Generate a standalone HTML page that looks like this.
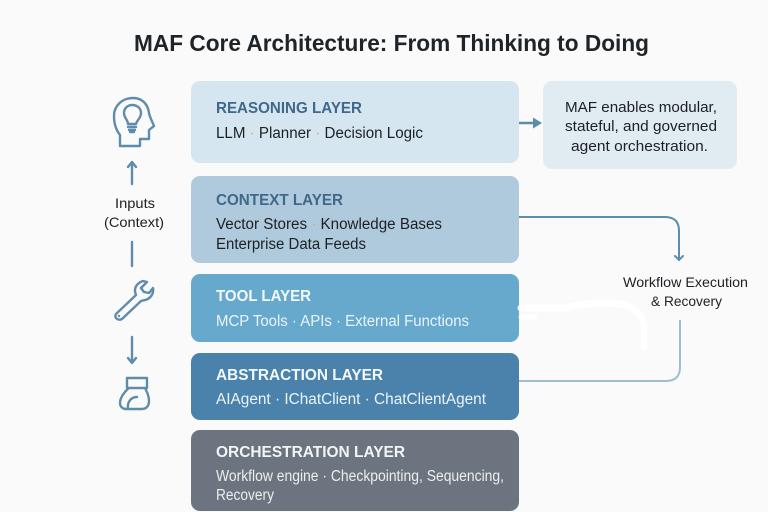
<!DOCTYPE html>
<html>
<head>
<meta charset="utf-8">
<style>
html,body{margin:0;padding:0;background:#fafafa;width:768px;height:512px;overflow:hidden}
svg{display:block}
text{font-family:"Liberation Sans",sans-serif}
.t{font-size:16px;font-weight:bold}
.s{font-size:15.5px}
.k{fill:#1c2024}
.c{font-size:15px;fill:#1c2024;text-anchor:start}
.i{fill:none;stroke:#5f8cab;stroke-width:2.4;stroke-linecap:round;stroke-linejoin:round}
</style>
</head>
<body>
<svg width="768" height="512" viewBox="0 0 768 512" xmlns="http://www.w3.org/2000/svg">
<rect width="768" height="512" fill="#fafafa"/>
<text x="134" y="51" font-size="23" font-weight="bold" fill="#1f2428" textLength="515" lengthAdjust="spacingAndGlyphs">MAF Core Architecture: From Thinking to Doing</text>

<rect x="191" y="81" width="328" height="82" rx="9" fill="#d5e6f1"/>
<rect x="191" y="176" width="328" height="87" rx="9" fill="#afcadc"/>
<rect x="191" y="274" width="328" height="68" rx="9" fill="#66a9cd"/>
<rect x="191" y="353" width="328" height="67" rx="9" fill="#4a82ab"/>
<rect x="191" y="430" width="328" height="81" rx="9" fill="#6c757f"/>
<rect x="543" y="81" width="194" height="88" rx="9" fill="#e1ebf2"/>

<text class="t" x="216" y="113" fill="#41688a" textLength="146" lengthAdjust="spacingAndGlyphs">REASONING LAYER</text>
<text class="s k" x="216" y="138" textLength="207" lengthAdjust="spacingAndGlyphs">LLM <tspan fill="#d2a878"> · </tspan>Planner <tspan fill="#d2a878"> · </tspan>Decision Logic</text>

<text class="t" x="216" y="205" fill="#41688a" textLength="127" lengthAdjust="spacingAndGlyphs">CONTEXT LAYER</text>
<text class="s k" x="216" y="229" textLength="226" lengthAdjust="spacingAndGlyphs">Vector Stores <tspan fill="#d2a878">·</tspan> Knowledge Bases</text>
<text class="s k" x="216" y="249" textLength="150" lengthAdjust="spacingAndGlyphs">Enterprise Data Feeds</text>

<text class="t" x="216" y="301" fill="#f3f8fb" textLength="95" lengthAdjust="spacingAndGlyphs">TOOL LAYER</text>
<text class="s" x="216" y="326" fill="#eaf4f9" textLength="253" lengthAdjust="spacingAndGlyphs">MCP Tools · APIs · External Functions</text>

<text class="t" x="216" y="380" fill="#f3f8fb" textLength="167" lengthAdjust="spacingAndGlyphs">ABSTRACTION LAYER</text>
<text class="s" x="216" y="404" fill="#eaf4f9" textLength="270" lengthAdjust="spacingAndGlyphs">AIAgent · IChatClient · ChatClientAgent</text>

<text class="t" x="216" y="457" fill="#f2f4f5" textLength="189" lengthAdjust="spacingAndGlyphs">ORCHESTRATION LAYER</text>
<text class="s" x="216" y="481" fill="#eceef0" textLength="288" lengthAdjust="spacingAndGlyphs">Workflow engine · Checkpointing, Sequencing,</text>
<text class="s" x="216" y="500" fill="#eceef0" textLength="58" lengthAdjust="spacingAndGlyphs">Recovery</text>

<text class="c" x="565" y="112" textLength="152" lengthAdjust="spacingAndGlyphs">MAF enables modular,</text>
<text class="c" x="565" y="131" textLength="152" lengthAdjust="spacingAndGlyphs">stateful, and governed</text>
<text class="c" x="571" y="151" textLength="137" lengthAdjust="spacingAndGlyphs">agent orchestration.</text>

<text x="115" y="208" font-size="14" fill="#1c2024" textLength="40" lengthAdjust="spacingAndGlyphs">Inputs</text>
<text x="104" y="227" font-size="14" fill="#1c2024" textLength="60" lengthAdjust="spacingAndGlyphs">(Context)</text>

<text x="623" y="287" font-size="14" fill="#1c2024" textLength="125" lengthAdjust="spacingAndGlyphs">Workflow Execution</text>
<text x="651" y="306" font-size="14" fill="#1c2024" textLength="71" lengthAdjust="spacingAndGlyphs">&amp; Recovery</text>

<!-- connectors -->
<path d="M519 123H537" fill="none" stroke="#5f8cab" stroke-width="2.4"/>
<path d="M542 123L533 117.500V128.500Z" fill="#5f8cab"/>
<path d="M519 217H665Q679 217 679 231V259" fill="none" stroke="#5f8cab" stroke-width="2"/>
<path d="M675 256L679 260L683 256" fill="none" stroke="#5f8cab" stroke-width="2" stroke-linecap="round"/>
<path d="M680 320V367Q680 381 666 381H519" fill="none" stroke="#9dbfd4" stroke-width="2"/>

<!-- white scribble -->
<path d="M521 308H566Q590 301 620 304Q640 308 644 325V347" fill="none" stroke="#ffffff" stroke-width="7" stroke-linecap="round"/>
<path d="M521 317H535" fill="none" stroke="#ffffff" stroke-width="5" stroke-linecap="round"/>

<!-- left icons -->
<path class="i" d="M120 146V135C116 130 114 124 114 116C114 105 123 98 133 98C143 98 148 105 149 113C150 118 153 123 154 126L149 130V139H140V146Z"/>
<path class="i" stroke-width="1.800" d="M128 124C128 120 124 118 124 113C124 108 128 105 132 105C137 105 141 108 141 113C141 118 137 120 136 124Z"/>
<path class="i" stroke-width="1.500" d="M128 127H136M129 130H135M130 132H134"/>

<path class="i" d="M132 184V163M128 167L132 162L136 167"/>
<path class="i" d="M132 242V266"/>
<path class="i" d="M132 337V362M128 358L132 363L136 358"/>

<!-- wrench -->
<path class="i" d="M116 314L136 295C133 288 137 283 143 281L147 282L141 288L144 292L149 293L153 288C154 294 150 299 145 300L141 301L122 319C118 321 114 318 116 314Z"/>
<circle cx="119" cy="316" r="1.200" fill="#5f8cab"/>

<!-- bottom icon -->
<path class="i" d="M127 378H147V388H127ZM129 388C124 392 120 398 120 403C120 407 123 409 126 409H142C147 409 149 405 149 401C149 396 147 392 145 388"/>
<path class="i" d="M128 409C127 402 131 397 137 397"/>
</svg>
</body>
</html>
